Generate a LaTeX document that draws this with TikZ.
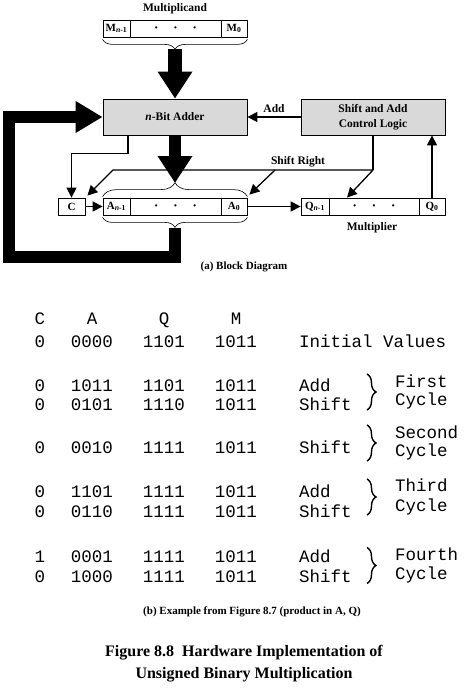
\documentclass[tikz,border=0pt]{standalone}
\usepackage{fontspec}
\setmainfont{Liberation Serif}
\setmonofont{Liberation Mono}
\usetikzlibrary{arrows.meta,decorations.pathreplacing,calc}
\newcommand{\regdots}{{\fontsize{8}{8}\selectfont\textbullet\hspace{16.5pt}\textbullet\hspace{16.5pt}\textbullet}}
\tikzset{
 reg/.style={draw, fill=white, line width=0.8pt, inner sep=0pt, minimum height=17pt, font=\fontsize{11}{12}\selectfont\bfseries},
 block/.style={draw, fill=black!15, line width=0.8pt, minimum width=144pt, minimum height=36pt, inner sep=0pt, align=center, font=\fontsize{11.5}{15}\selectfont\bfseries},
 lbl/.style={font=\fontsize{11.5}{13}\selectfont\bfseries, inner sep=0pt},
 sig/.style={line width=1.3pt, -{Triangle[length=10pt,width=10pt]}},
 bus/.style={line width=13pt, -{Triangle[length=27pt,width=33pt]}},
 loopbus/.style={line width=11.5pt, line join=miter, -{Triangle[length=27pt,width=30pt]}},
 regbrace/.style={decorate, decoration={brace, amplitude=#1}, line width=0.6pt},
 tbrace/.style={decorate, decoration={brace, amplitude=9pt}, line width=1.4pt},
 tt/.style={font=\fontsize{17.5}{20}\selectfont\ttfamily, inner sep=0pt, anchor=base},
 ttl/.style={tt, anchor=base west},
}
\begin{document}
\begin{tikzpicture}[x=1pt,y=-1pt]
\useasboundingbox[fill=white] (0,0) rectangle (471,690);
% multiplicand register
\node[lbl] (mlabel) at (175,9) {Multiplicand};
\node[reg, minimum width=27pt] (m1) at (116.5,28.5) {M\textsubscript{\textit{n}-1}};
\node[reg, minimum width=91pt] (m2) at (175.5,28.5) {\regdots};
\node[reg, minimum width=26pt] (m3) at (234,28.5) {M\textsubscript{0}};
\draw[regbrace=10pt] ([yshift=-2pt]m3.south east) -- ([yshift=-2pt]m1.south west);
\coordinate (mtip) at (175,49);
% blocks
\node[block] (adder) at (175,117) {\textit{n}-Bit Adder};
\node[block] (ctrl) at (373,117) {Shift and Add\\Control Logic};
\draw[bus, line width=14pt] (mtip) -- (adder.north);
\draw[sig] (ctrl.west) -- (adder.east) node[lbl, midway, above=4pt] (addl) {Add};
% registers
\node[reg, minimum width=27pt] (cbox) at (71.5,206.5) {C};
\node[reg, minimum width=27pt] (a1) at (116.5,206.5) {A\textsubscript{\textit{n}-1}};
\node[reg, minimum width=91pt] (a2) at (175.5,206.5) {\regdots};
\node[reg, minimum width=26pt] (a3) at (234,206.5) {A\textsubscript{0}};
\node[reg, minimum width=28pt] (q1) at (315,206.5) {Q\textsubscript{\textit{n}-1}};
\node[reg, minimum width=90pt] (q2) at (374,206.5) {\regdots};
\node[reg, minimum width=26pt] (q3) at (432,206.5) {Q\textsubscript{0}};
\node[lbl] (mult) at (372,228) {Multiplier};
\draw[regbrace=14pt] ([yshift=1pt]a1.north west) -- ([yshift=1pt]a3.north east);
\draw[regbrace=10pt] ([yshift=-2pt]a3.south east) -- ([yshift=-2pt]a1.south west);
\coordinate (atip) at (175,183);
\coordinate (abot) at (175,228);
\draw[bus, line width=12pt] (adder.south) -- (atip);
\draw[loopbus] (abot) -- (175,257) -- (9,257) |- (adder.west);
% signals
\draw[sig] ([xshift=-47pt]adder.south) -- ++(0,18) -| (cbox.north);
\draw[sig] (cbox.east) -- (a1.west);
\draw[sig] (a3.east) -- (q1.west);
\draw[sig] (q3.north) -- (q3.north |- ctrl.south);
\coordinate (sr) at (373,170);
\coordinate (sr2) at (275,170);
\draw[line width=1.3pt] (ctrl.south) -- (sr);
\draw[sig] (sr) -- (113,170) -- ([shift={(2pt,2pt)}]cbox.north east);
\draw[sig] (sr2) -- ([shift={(2pt,3pt)}]a3.north east);
\draw[sig] (sr) -- ([xshift=-27pt]q2.north);
\node[lbl] (srl) at (298,162) {Shift Right};
\node[lbl, font=\fontsize{11}{13}\selectfont\bfseries] (capa) at (244,267) {(a) Block Diagram};
% table
\node[tt] (hc) at (40,324) {C};
\node[tt] (ha) at (92,324) {A};
\node[tt] (hq) at (164,324) {Q};
\node[tt] (hm) at (236,324) {M};
\foreach \yy/\c/\a/\q/\m/\d [count=\i] in {
 347/0/0000/1101/1011/Initial Values,
 391/0/1011/1101/1011/Add,
 410/0/0101/1110/1011/Shift,
 453/0/0010/1111/1011/Shift,
 497/0/1101/1111/1011/Add,
 517/0/0110/1111/1011/Shift,
 562/1/0001/1111/1011/Add,
 582/0/1000/1111/1011/Shift}{
 \node[tt] (rc\i) at (40,\yy) {\c};
 \node[tt] (ra\i) at (92,\yy) {\a};
 \node[tt] (rq\i) at (164,\yy) {\q};
 \node[tt] (rm\i) at (236,\yy) {\m};
 \node[ttl] (rd\i) at (299,\yy) {\d};
}
\foreach \ya/\yb/\w/\yc [count=\j] in {387/405/First/392, 438/456/Second/443, 491/511/Third/497, 560/579/Fourth/565.5}{
 \node[ttl] (cw\j) at (395,\ya) {\w};
 \node[ttl] (cc\j) at (395,\yb) {Cycle};
 \draw[tbrace] (367,\yc-18) -- (367,\yc+18);
}
\node[lbl, font=\fontsize{11}{13}\selectfont\bfseries] (capb) at (252,612) {(b) Example from Figure 8.7 (product in A, Q)};
\node[font=\fontsize{16}{22}\selectfont\bfseries, align=center, inner sep=0pt] (title) at (244,664) {Figure 8.8\ \ Hardware Implementation of\\Unsigned Binary Multiplication};
\end{tikzpicture}
\end{document}
